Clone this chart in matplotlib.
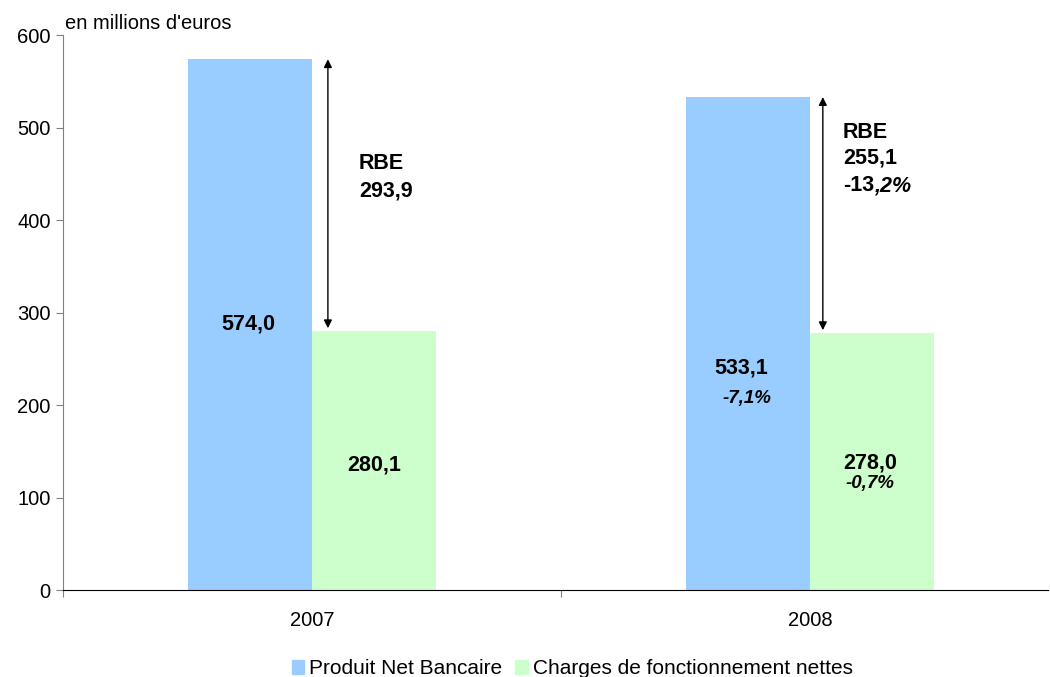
import matplotlib
matplotlib.use('Agg')
import matplotlib.pyplot as plt
from matplotlib.patches import Patch

plt.rcParams['font.family'] = ['Liberation Sans', 'DejaVu Sans']

years = ['2007', '2008']
pnb = [574.0, 533.1]
charges = [280.1, 278.0]
rbe = ['293,9', '255,1']
pnb_var = ['', '-7,1%']
charges_var = ['', '-0,7%']

blue = '#99CCFF'
green = '#CCFFCC'
w = 0.249

fig = plt.figure(figsize=(10.5, 6.77), dpi=100)
ax = fig.add_axes([0.06, 0.1285, 0.938, 0.8195])

x = [0, 1]
ax.bar([i - w / 2 for i in x], pnb, w, color=blue)
ax.bar([i + w / 2 for i in x], charges, w, color=green)

ax.set_xlim(-0.5, 1.478)
ax.set_ylim(0, 600)
ax.set_yticks(range(0, 601, 100))
ax.set_xticks([-0.5, 0.5])
ax.set_xticklabels([])
ax.set_xticks(x, minor=True)
ax.set_xticklabels(years, minor=True)
ax.tick_params(axis='x', which='minor', length=0, pad=15, labelsize=14.5)
ax.tick_params(axis='x', which='major', length=5, color='#808080')
ax.tick_params(axis='y', length=5, color='#808080', labelsize=14.5, pad=4)
for s in ['top', 'right']:
    ax.spines[s].set_visible(False)
ax.spines['left'].set_color('#808080')
ax.spines['bottom'].set_color('black')

ax.text(0.002, 1.004, "en millions d'euros", transform=ax.transAxes,
        fontsize=14.5, va='bottom', ha='left')

# arrows showing RBE
arrow_x = [0.032, 1.026]
for i in x:
    ax.annotate('', xy=(arrow_x[i], pnb[i]), xytext=(arrow_x[i], charges[i] + 3),
                arrowprops=dict(arrowstyle='<|-|>', color='black', lw=1,
                                mutation_scale=12, shrinkA=0, shrinkB=0))

bold = dict(fontsize=15.5, fontweight='bold', va='center')
ital = dict(fontsize=13.5, fontweight='bold', style='italic', va='center')

# 2007 labels
ax.text(-0.127, 287.6, '574,0', ha='center', **bold)
ax.text(0.124, 135, '280,1', ha='center', **bold)
ax.text(0.094, 461.6, 'RBE', ha='left', **bold)
ax.text(0.094, 432, rbe[0], ha='left', **bold)

# 2008 labels
ax.text(0.863, 240, '533,1', ha='center', **bold)
ax.text(0.873, 207.6, pnb_var[1], ha='center', **ital)
ax.text(1.122, 137, '278,0', ha='center', **bold)
ax.text(1.120, 115.7, charges_var[1], ha='center', **ital)
ax.text(1.066, 495, 'RBE', ha='left', **bold)
ax.text(1.066, 467, rbe[1], ha='left', **bold)
t1 = ax.text(1.066, 437, '-13', ha='left', **bold)
ax.annotate(',2%', xy=(1, 0.5), xycoords=t1, ha='left', va='center',
            fontsize=15.5, fontweight='bold', style='italic')

handles = [Patch(color=blue, label='Produit Net Bancaire'),
           Patch(color=green, label='Charges de fonctionnement nettes')]
fig.legend(handles=handles, loc='center', bbox_to_anchor=(0.545, 0.012), ncol=2,
           frameon=False, fontsize=15, handlelength=0.6, handleheight=0.6,
           handletextpad=0.25, columnspacing=0.6)

fig.savefig('out.png', dpi=100)
